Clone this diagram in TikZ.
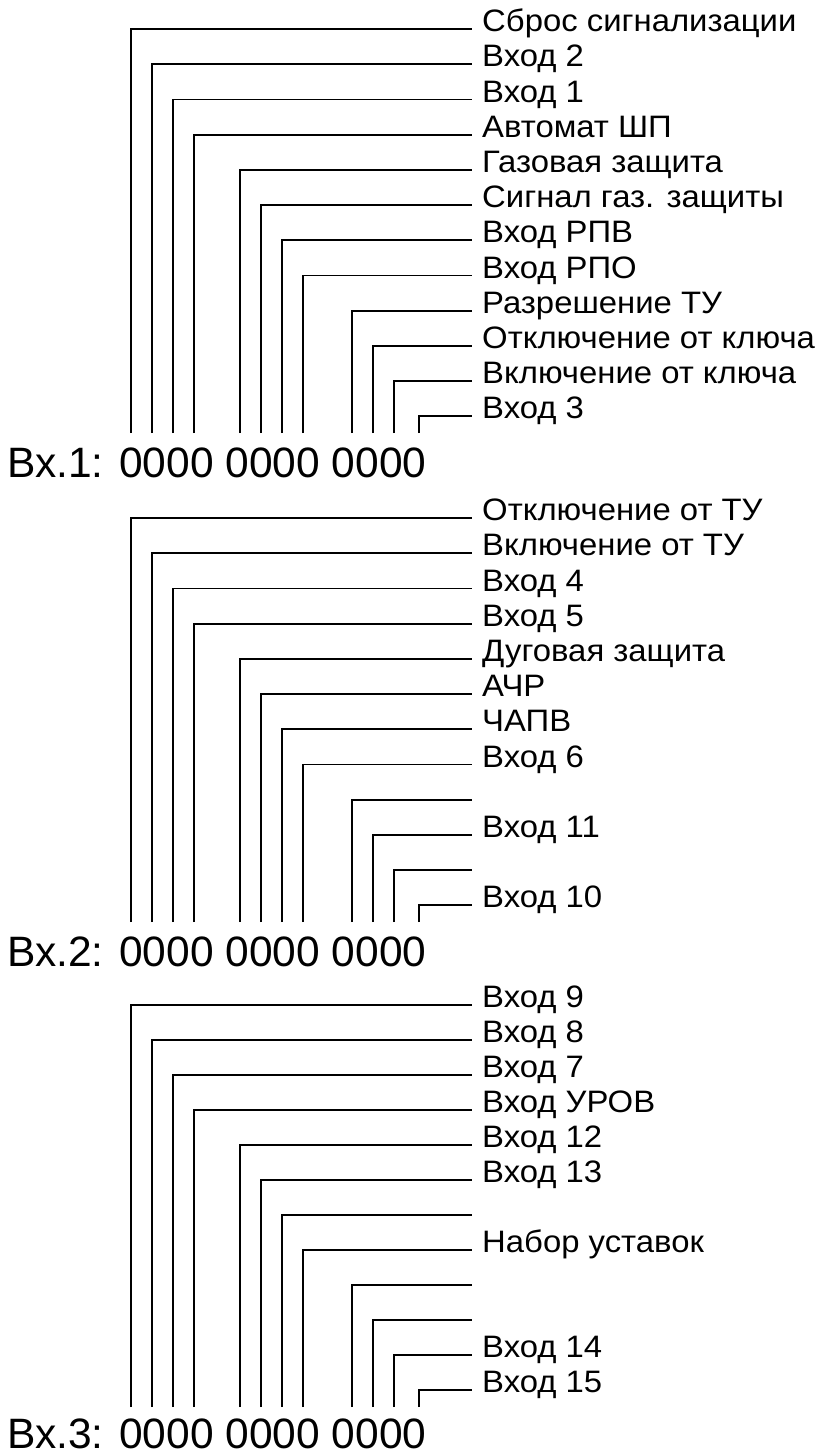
\documentclass[tikz,border=0pt]{standalone}
\usepackage{fontspec}
\setmainfont{Liberation Sans}
\newfontfamily\sigfont{Liberation Sans}[FakeStretch=1.06]
\usetikzlibrary{positioning,calc}

\begin{document}
\begin{tikzpicture}[
        x=1pt, y=-1pt,
        bit/.style={black, line width=1.8pt},
        every node/.style={color=black},
        sig/.style={anchor=west, inner xsep=10pt, inner ysep=0pt,
            font=\sigfont\fontsize{31}{31}\selectfont, text height=0.72em, text depth=0.2em},
        reg/.style={anchor=base west, inner sep=0pt,
            font=\fontsize{42.5}{42.5}\selectfont},
    ]
    \useasboundingbox (0,0) rectangle (817,1456);
    % register 1
    \node[reg] (reg1) at (7,477) {Вх.1: 0000 0000 0000};
    \foreach \i/\x/\txt in {1/131/Сброс сигнализации, 2/152/Вход 2, 3/173/Вход 1,
            4/194/Автомат ШП, 5/240/Газовая защита, 6/261/Сигнал газ. защиты,
            7/282/Вход РПВ, 8/303/Вход РПО, 9/352/Разрешение ТУ,
            10/373/Отключение от ключа, 11/394/Включение от ключа, 12/419/Вход 3}{
        \coordinate (b1-\i) at (\x,433);
        \node[sig] (s1-\i) at (472,{29+35.2*(\i-1)}) {\txt};
        \draw[bit] (b1-\i) |- (s1-\i.west);
    }
    % register 2
    \node[reg] (reg2) at (7,966) {Вх.2: 0000 0000 0000};
    \foreach \i/\x/\txt in {1/131/Отключение от ТУ, 2/152/Включение от ТУ, 3/173/Вход 4,
            4/194/Вход 5, 5/240/Дуговая защита, 6/261/АЧР,
            7/282/ЧАПВ, 8/303/Вход 6, 9/352/,
            10/373/Вход 11, 11/394/, 12/419/Вход 10}{
        \coordinate (b2-\i) at (\x,922);
        \node[sig] (s2-\i) at (472,{518+35.2*(\i-1)}) {\txt};
        \draw[bit] (b2-\i) |- (s2-\i.west);
    }
    % register 3
    \node[reg] (reg3) at (7,1448) {Вх.3: 0000 0000 0000};
    \foreach \i/\x/\txt in {1/131/Вход 9, 2/152/Вход 8, 3/173/Вход 7,
            4/194/Вход УРОВ, 5/240/Вход 12, 6/261/Вход 13,
            7/282/, 8/303/Набор уставок, 9/352/,
            10/373/, 11/394/Вход 14, 12/419/Вход 15}{
        \coordinate (b3-\i) at (\x,1407);
        \node[sig] (s3-\i) at (472,{1005+35.0*(\i-1)}) {\txt};
        \draw[bit] (b3-\i) |- (s3-\i.west);
    }
\end{tikzpicture}
\end{document}
